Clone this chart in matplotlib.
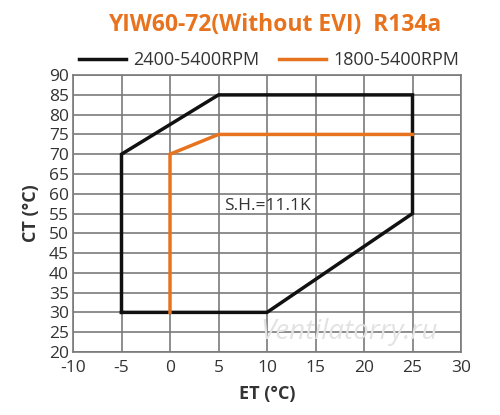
import numpy as np
from matplotlib import pyplot as plt

## envelope data
black_et = [-5, -5, 5, 25, 25, 10, -5]
black_ct = [30, 70, 85, 85, 55, 30, 30]
orange_et = [0, 0, 5, 25]
orange_ct = [30, 70, 75, 75]
x_ticks = np.arange(-10, 31, 5)
y_ticks = np.arange(20, 91, 5)

orange = '#e8731e'
plt.rcParams['font.family'] = ['Open Sans', 'DejaVu Sans']
plt.rcParams['axes.unicode_minus'] = False

fig = plt.figure(figsize=(5, 4.15), dpi=100)
ax = fig.add_axes([0.146, 0.152, 0.776, 0.667])

ax.plot(black_et, black_ct, color='#111111', lw=2.5, label='2400-5400RPM',
        solid_joinstyle='miter', zorder=3)
ax.plot(orange_et, orange_ct, color=orange, lw=2.5, label='1800-5400RPM',
        solid_joinstyle='miter', zorder=3)

ax.set_xlim(-10, 30)
ax.set_ylim(20, 90)
ax.set_xticks(x_ticks)
ax.set_yticks(y_ticks)
ax.grid(color='#7a7a7a', lw=1.2)
ax.tick_params(length=0, labelsize=12.5, colors='#333333')
ax.tick_params(axis='x', pad=6)
ax.tick_params(axis='y', pad=3)
for s in ax.spines.values():
    s.set_color('#7a7a7a')
    s.set_linewidth(1.2)

ax.set_xlabel('ET (°C)', fontsize=13, fontweight='bold', color='#333333', labelpad=6)
ax.set_ylabel('CT (°C)', fontsize=13, fontweight='bold', color='#333333', labelpad=6)

ax.text(10, 57, 'S.H.=11.1K', fontsize=12.5, color='#333333', ha='center', va='center')
ax.text(18.5, 25, 'Ventilatorry.ru', fontsize=20, color='#e3e3e3', style='italic',
        ha='center', va='center', zorder=4)

fig.text(0.55, 0.94, 'YIW60-72(Without EVI)  R134a', fontsize=16.5, fontweight='bold',
         color=orange, ha='center', va='center')
ax.legend(loc='lower center', bbox_to_anchor=(0.505, 0.995), ncol=2, frameon=False,
          fontsize=13, handlelength=2.6, columnspacing=1.1, borderaxespad=0,
          handletextpad=0.4, labelcolor='#333333')

plt.savefig('out.png', dpi=100)
